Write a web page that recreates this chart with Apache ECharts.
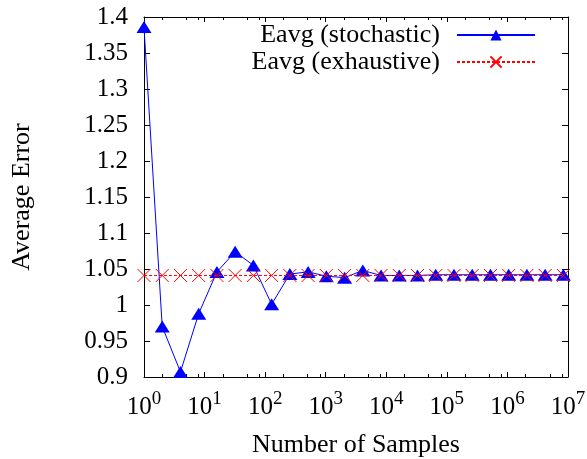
<!DOCTYPE html>
<html>
<head>
<meta charset="utf-8">
<script src="https://cdn.jsdelivr.net/npm/echarts@6/dist/echarts.min.js"></script>
<style>
html,body{margin:0;padding:0;background:#fff;}
#c{width:587px;height:459px;}
</style>
</head>
<body>
<div id="c"></div>
<script>
// ---- data ----
var samples = [1, 2, 4, 8, 16, 32, 64, 128, 256, 512, 1024, 2048, 4096, 8192, 16384, 32768,
  65536, 131072, 262144, 524288, 1048576, 2097152, 4194304, 8388608];
var stochastic = [1.386, 0.970, 0.907, 0.988, 1.046, 1.074, 1.055, 1.001, 1.043, 1.046, 1.040, 1.038,
  1.048, 1.041, 1.041, 1.041, 1.042, 1.042, 1.042, 1.042, 1.042, 1.042, 1.042, 1.042];
var exhaustive = [1.041, 1.041, 1.041, 1.041, 1.041, 1.041, 1.041, 1.041, 1.041, 1.041, 1.041, 1.041,
  1.041, 1.041, 1.041, 1.041, 1.041, 1.041, 1.041, 1.041, 1.041, 1.041, 1.041, 1.041];
var xTickExponents = [0, 1, 2, 3, 4, 5, 6, 7];
var xMinorTicks = [2, 5, 8, 20, 50, 80, 200, 500, 800, 2000, 5000, 8000, 2e4, 5e4, 8e4,
  2e5, 5e5, 8e5, 2e6, 5e6, 8e6];
var yMin = 0.9, yMax = 1.4, yStep = 0.05;
var nameStochastic = 'Eavg (stochastic)';
var nameExhaustive = 'Eavg (exhaustive)';
var xTitle = 'Number of Samples';
var yTitle = 'Average Error';

var FONT = '"Liberation Serif", "Times New Roman", serif';
var chart = echarts.init(document.getElementById('c'));

function pairs(xs, ys) { return xs.map(function (x, i) { return [x, ys[i]]; }); }
var xMax = Math.pow(10, xTickExponents[xTickExponents.length - 1]);
var xMin = Math.pow(10, xTickExponents[0]);

function baseX(extra) {
  var o = {
    type: 'log', logBase: 10, min: xMin, max: xMax,
    splitLine: { show: false },
    axisLine: { show: true, onZero: false, lineStyle: { color: '#000', width: 1 } },
    axisTick: { show: true, inside: true, length: 5, lineStyle: { color: '#000', width: 1 } },
    axisLabel: { show: false },
    minorTick: { show: false }
  };
  for (var k in extra) o[k] = extra[k];
  return o;
}
function minorX(pos) {
  return {
    type: 'log', logBase: 10, min: xMin, max: xMax, position: pos,
    splitLine: { show: false },
    axisLine: { show: false, onZero: false },
    axisTick: { show: true, inside: true, length: 3, customValues: xMinorTicks, lineStyle: { color: '#000', width: 1 } },
    axisLabel: { show: false }
  };
}
function baseY(pos, showLabel) {
  return {
    type: 'value', min: yMin, max: yMax, interval: yStep, position: pos,
    splitLine: { show: false },
    axisLine: { show: true, onZero: false, lineStyle: { color: '#000', width: 1 } },
    axisTick: { show: true, inside: true, length: 6, lineStyle: { color: '#000', width: 1 } },
    axisLabel: {
      show: showLabel, margin: 16, color: '#000', fontFamily: FONT, fontSize: 25,
      formatter: function (v) { return String(parseFloat(v.toFixed(2))); }
    }
  };
}

var option = {
  animation: false,
  backgroundColor: '#fff',
  grid: { left: 144, right: 19, top: 17, bottom: 82, containLabel: false, outerBoundsMode: 'none' },
  xAxis: [
    baseX({
      position: 'bottom',
      name: xTitle, nameLocation: 'middle', nameGap: 50,
      nameTextStyle: { color: '#000', fontFamily: FONT, fontSize: 26 },
      axisLabel: {
        show: true, margin: 13, color: '#000',
        formatter: function (v) {
          var e = Math.round(Math.log10(v));
          return '{b|10}{s|' + e + '}';
        },
        rich: {
          b: { fontFamily: FONT, fontSize: 25, color: '#000', lineHeight: 30, verticalAlign: 'bottom' },
          s: { fontFamily: FONT, fontSize: 19, color: '#000', lineHeight: 30, verticalAlign: 'top', padding: [0, 0, 18, 0] }
        }
      }
    }),
    minorX('bottom'),
    baseX({ position: 'top' }),
    minorX('top')
  ],
  yAxis: [
    (function () {
      var y = baseY('left', true);
      y.name = yTitle; y.nameLocation = 'middle'; y.nameGap = 109; y.nameRotate = 90;
      y.nameTextStyle = { color: '#000', fontFamily: FONT, fontSize: 26 };
      return y;
    })(),
    baseY('right', false)
  ],
  legend: [
    {
      data: [nameStochastic], right: 51, top: 22, padding: 0, align: 'right',
      itemWidth: 78, itemHeight: 14, orient: 'vertical',
      textStyle: { color: '#000', fontFamily: FONT, fontSize: 26, padding: [0, 12, 0, 0] }
    },
    {
      data: [nameExhaustive], right: 51, top: 49, padding: 0, align: 'right',
      itemWidth: 78, itemHeight: 14, orient: 'vertical',
      textStyle: { color: '#000', fontFamily: FONT, fontSize: 26, padding: [0, 12, 0, 0] }
    }
  ],
  series: [
    {
      name: nameStochastic, type: 'line', xAxisIndex: 0, yAxisIndex: 0,
      data: pairs(samples, stochastic), clip: false,
      symbol: 'triangle', symbolSize: [15, 12], showAllSymbol: true,
      lineStyle: { color: '#0000ff', width: 1 },
      itemStyle: { color: '#0000ff' },
      z: 3
    },
    {
      name: nameExhaustive, type: 'line', xAxisIndex: 0, yAxisIndex: 0,
      data: pairs(samples, exhaustive), clip: false,
      symbol: 'path://M0,0L10,10M10,0L0,10', symbolSize: [13, 13], showAllSymbol: true,
      lineStyle: { color: '#ff0000', width: 1, type: [3, 2] },
      itemStyle: { color: 'rgba(0,0,0,0)', borderColor: '#ff0000', borderWidth: 1 },
      z: 4
    }
  ]
};
chart.setOption(option);
</script>
</body>
</html>
